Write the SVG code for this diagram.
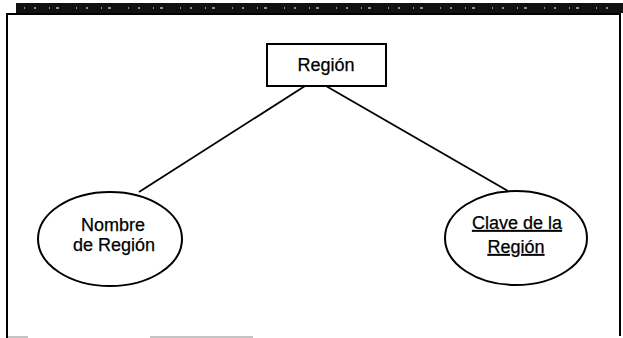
<svg xmlns="http://www.w3.org/2000/svg" width="623" height="338" viewBox="0 0 623 338">
  <style>
    .frame { fill: none; stroke: #000; stroke-width: 2; }
    .node { fill: #fff; stroke: #000; stroke-width: 2; }
    .edge { fill: none; stroke: #000; stroke-width: 1.8; }
    .label { font-family: "Liberation Sans", Arial, sans-serif; font-size: 18px; fill: #000; stroke: #000; stroke-width: 0.25; text-anchor: middle; }
    .key { text-decoration: underline; }
  </style>
  <rect x="0" y="0" width="623" height="338" fill="#fff"/>
  <!-- scanned header band -->
  <rect x="16" y="3" width="607" height="10" fill="#111"/>
  <line x1="24" y1="8" x2="615" y2="8" stroke="#fff" stroke-width="1.5" stroke-dasharray="1 9 2 13 1 6 3 17" opacity="0.7"/>
  <!-- frame -->
  <path class="frame" d="M7,338 V14 H620 V336"/>
  <line x1="150" y1="337" x2="253" y2="337" stroke="#888" stroke-width="1"/>
  <line x1="8" y1="337" x2="28" y2="337" stroke="#888" stroke-width="1"/>

  <g id="connectors">
    <line class="edge" x1="305" y1="86" x2="139" y2="192"/>
    <line class="edge" x1="326" y1="86" x2="508" y2="191"/>
  </g>

  <g id="region">
    <rect class="node" x="267" y="44" width="119" height="42"/>
    <text class="label" x="326" y="71">Región</text>
  </g>

  <g id="nombre-region">
    <ellipse class="node" cx="110" cy="239" rx="72" ry="47"/>
    <text class="label" x="113" y="231">Nombre</text>
    <text class="label" x="114" y="251">de Región</text>
  </g>

  <g id="clave-region">
    <ellipse class="node" cx="516" cy="238" rx="71" ry="47"/>
    <text class="label key" x="517" y="229">Clave de la</text>
    <text class="label key" x="516" y="253">Región</text>
  </g>
</svg>
